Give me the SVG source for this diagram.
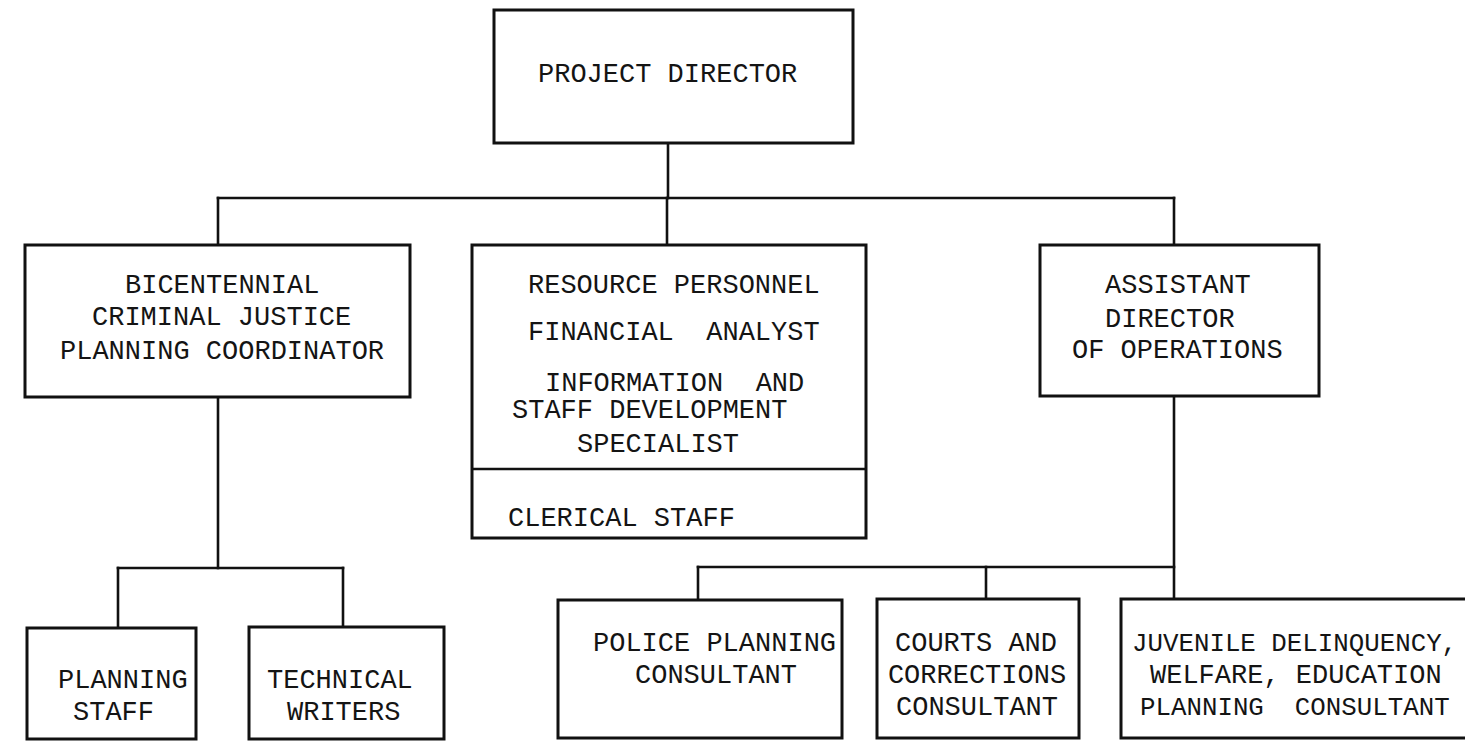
<svg xmlns="http://www.w3.org/2000/svg" width="1465" height="741" viewBox="0 0 1465 741">
<style>
  .box { fill: #ffffff; stroke: #111111; stroke-width: 3; }
  .div { stroke: #111111; stroke-width: 2.5; fill: none; }
  .conn { stroke: #111111; stroke-width: 2.6; fill: none; stroke-linecap: square; }
  text { font-family: "Liberation Mono", "DejaVu Sans Mono", monospace; font-size: 27px; fill: #141414; }
  .tight { font-size: 25.8px; }
</style>
<rect width="1465" height="741" fill="#ffffff"/>
<g id="connectors">
  <path class="conn" d="M668 143 V198"/>
  <path class="conn" d="M218 198 H1174"/>
  <path class="conn" d="M218 198 V245"/>
  <path class="conn" d="M667 198 V245"/>
  <path class="conn" d="M1174 198 V245"/>
  <path class="conn" d="M218 397 V568"/>
  <path class="conn" d="M118 568 H343"/>
  <path class="conn" d="M118 568 V628"/>
  <path class="conn" d="M343 568 V627"/>
  <path class="conn" d="M1174 396 V599"/>
  <path class="conn" d="M698 567 H1174"/>
  <path class="conn" d="M698 567 V600"/>
  <path class="conn" d="M986 567 V599"/>
</g>
<g id="project-director">
  <rect class="box" x="494" y="10" width="359" height="133"/>
  <text x="538" y="82">PROJECT DIRECTOR</text>
</g>
<g id="bicentennial-coordinator">
  <rect class="box" x="25" y="245" width="385" height="152"/>
  <text x="125" y="293">BICENTENNIAL</text>
  <text x="92" y="325">CRIMINAL JUSTICE</text>
  <text x="60" y="359">PLANNING COORDINATOR</text>
</g>
<g id="resource-personnel">
  <rect class="box" x="472" y="245" width="394" height="293"/>
  <line class="div" x1="472" y1="469" x2="866" y2="469"/>
  <text x="528" y="293">RESOURCE PERSONNEL</text>
  <text x="528" y="340" xml:space="preserve">FINANCIAL  ANALYST</text>
  <text x="545" y="391" xml:space="preserve">INFORMATION  AND</text>
  <text x="512" y="418">STAFF DEVELOPMENT</text>
  <text x="577" y="452">SPECIALIST</text>
  <text x="508" y="526">CLERICAL STAFF</text>
</g>
<g id="assistant-director">
  <rect class="box" x="1040" y="245" width="279" height="151"/>
  <text x="1105" y="293">ASSISTANT</text>
  <text x="1105" y="327">DIRECTOR</text>
  <text x="1072" y="358">OF OPERATIONS</text>
</g>
<g id="planning-staff">
  <rect class="box" x="27" y="628" width="169" height="111"/>
  <text x="58" y="688">PLANNING</text>
  <text x="73" y="720">STAFF</text>
</g>
<g id="technical-writers">
  <rect class="box" x="249" y="627" width="195" height="112"/>
  <text x="267" y="688">TECHNICAL</text>
  <text x="287" y="720">WRITERS</text>
</g>
<g id="police-planning">
  <rect class="box" x="558" y="600" width="284" height="138"/>
  <text x="593" y="651">POLICE PLANNING</text>
  <text x="635" y="683">CONSULTANT</text>
</g>
<g id="courts-corrections">
  <rect class="box" x="877" y="599" width="202" height="139"/>
  <text x="976" y="651" text-anchor="middle">COURTS AND</text>
  <text x="977" y="683" text-anchor="middle">CORRECTIONS</text>
  <text x="977" y="715" text-anchor="middle">CONSULTANT</text>
</g>
<g id="juvenile-welfare-education">
  <rect class="box" x="1121" y="599" width="360" height="139"/>
  <text class="tight" x="1132" y="651">JUVENILE DELINQUENCY,</text>
  <text x="1150" y="683">WELFARE, EDUCATION</text>
  <text class="tight" x="1140" y="715" xml:space="preserve">PLANNING  CONSULTANT</text>
</g>
</svg>
